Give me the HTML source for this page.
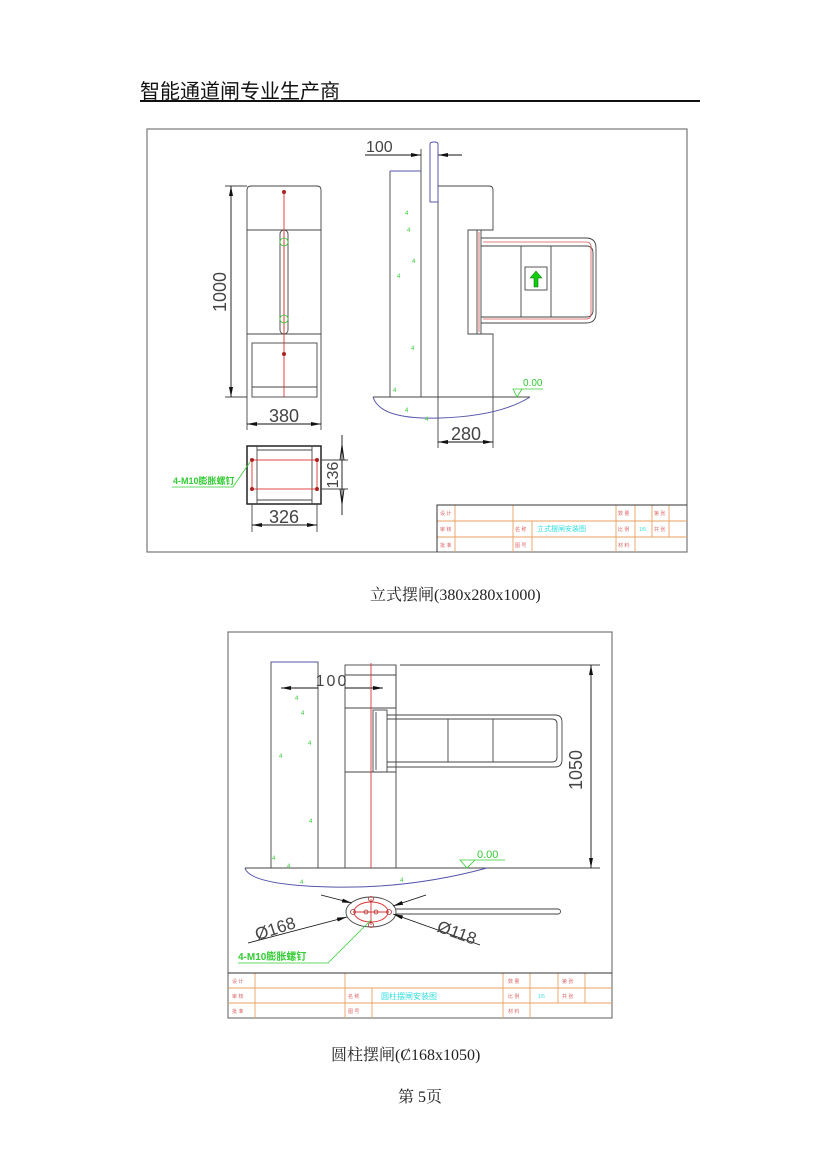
<!DOCTYPE html>
<html><head><meta charset="utf-8"><style>
html,body{margin:0;padding:0;background:#fff}
body{width:827px;height:1167px;position:relative;overflow:hidden}
.t{position:absolute;white-space:nowrap}
svg{position:absolute;left:0;top:0}
</style></head><body>
<div class="t" style="left:140px;top:75px;font:20px 'Liberation Sans','Noto Sans CJK SC',sans-serif;color:#111">智能通道闸专业生产商</div>
<div class="t" style="left:370px;top:582px;font:16px 'Liberation Serif','Noto Serif CJK SC',serif;color:#222">立式摆闸(380x280x1000)</div>
<div class="t" style="left:331px;top:1042px;font:16px 'Liberation Serif','Noto Serif CJK SC',serif;color:#222">圆柱摆闸(Ȼ168x1050)</div>
<div class="t" style="left:398px;top:1084px;font:16px 'Liberation Serif','Noto Serif CJK SC',serif;color:#222">第 5页</div>
<svg width="827" height="1167" viewBox="0 0 827 1167" font-family="Liberation Sans, Noto Sans CJK SC, sans-serif">
<defs><marker id="a" viewBox="0 0 10 4" refX="10" refY="2" markerWidth="11" markerHeight="4" orient="auto-start-reverse" markerUnits="userSpaceOnUse"><path d="M0,0L10,2L0,4z" fill="#111"/></marker></defs>
<line x1="140" y1="101" x2="700" y2="101" stroke="#111" stroke-width="2"/>
<!-- Drawing 1 -->
<rect x="147" y="129" width="540" height="423" fill="none" stroke="#777" stroke-width="1.2"/>
<g fill="none" stroke="#444" stroke-width="0.9">
<path d="M247,397V190q0-4 4-4h66q4,0 4,4V397"/>
<line x1="247" y1="230" x2="321" y2="230"/>
<line x1="247" y1="334" x2="321" y2="334"/>
<rect x="252" y="343" width="65" height="54"/>
<line x1="252" y1="387" x2="317" y2="387"/>
<rect x="280" y="230" width="8" height="104" rx="4"/>
<line x1="225" y1="186" x2="247" y2="186"/><line x1="225" y1="397" x2="247" y2="397"/>
<line x1="231" y1="186" x2="231" y2="397" stroke="#111" marker-start="url(#a)" marker-end="url(#a)"/>
<line x1="247" y1="397" x2="247" y2="430"/><line x1="321" y1="397" x2="321" y2="430"/>
<line x1="247" y1="424" x2="321" y2="424" stroke="#111" marker-start="url(#a)" marker-end="url(#a)"/>
<rect x="247" y="446" width="74" height="58" stroke="#222" stroke-width="1.5"/>
<line x1="257" y1="450" x2="312" y2="450"/><line x1="257" y1="500" x2="312" y2="500"/>
<line x1="257" y1="446" x2="257" y2="504"/><line x1="312" y1="446" x2="312" y2="504"/>
<line x1="321" y1="460" x2="348" y2="460"/><line x1="321" y1="489" x2="348" y2="489"/>
<line x1="342" y1="435" x2="342" y2="515" stroke="#111"/>
<path d="M342,445L340,460M342,445L344,460M342,504L340,489M342,504L344,489" stroke="#111"/>
<line x1="252" y1="504" x2="252" y2="532"/><line x1="317" y1="504" x2="317" y2="532"/>
<line x1="252" y1="525" x2="317" y2="525" stroke="#111" marker-start="url(#a)" marker-end="url(#a)"/>
</g>
<g stroke="#d33" fill="none" stroke-width="0.9">
<line x1="284" y1="190" x2="284" y2="397"/><line x1="284" y1="232" x2="284" y2="332"/>
<rect x="252" y="460" width="65" height="29"/>
</g>
<g fill="#a22"><circle cx="284" cy="192" r="2"/><circle cx="284" cy="354" r="2"/><circle cx="252" cy="460" r="2"/><circle cx="317" cy="460" r="2"/><circle cx="252" cy="489" r="2"/><circle cx="317" cy="489" r="2"/></g>
<g fill="none" stroke="#3c3" stroke-width="0.8"><circle cx="284" cy="242" r="4"/><circle cx="284" cy="319" r="4"/>
<path d="M172,487H233L250,462"/></g>
<g fill="#444">
<text x="221" y="292" font-size="18" text-anchor="middle" transform="rotate(-90 221 292)" dominant-baseline="middle">1000</text>
<text x="284" y="422" font-size="18" text-anchor="middle">380</text>
<text x="334" y="475" font-size="16" text-anchor="middle" transform="rotate(-90 334 475)" dominant-baseline="middle">136</text>
<text x="284" y="523" font-size="18" text-anchor="middle">326</text>
</g>
<text x="173" y="484" font-size="9" fill="#3c3" font-weight="bold">4-M10膨胀螺钉</text>
<!-- side view -->
<g fill="none" stroke="#444" stroke-width="0.9">
<line x1="390" y1="171" x2="390" y2="397"/><line x1="421" y1="149" x2="421" y2="397"/>
<path d="M438,397V186h51q4,0 4,4V230h-25V334h25V397"/>
<line x1="477" y1="230" x2="477" y2="334"/><line x1="481" y1="230" x2="481" y2="334"/>
<path d="M481,238H586q10,0 10,10V313q0,10-10,10H481"/>
<path d="M481,246H586q7,0 7,7V310q0,7-7,7H481"/>
<line x1="521" y1="246" x2="521" y2="317"/><line x1="551" y1="246" x2="551" y2="317"/>
<rect x="525" y="267" width="22" height="23"/>
<line x1="373" y1="397" x2="530" y2="397"/>
<line x1="438" y1="397" x2="438" y2="448"/><line x1="493" y1="397" x2="493" y2="448"/>
<line x1="438" y1="442" x2="493" y2="442" stroke="#111" marker-start="url(#a)" marker-end="url(#a)"/>
<line x1="365" y1="155" x2="421" y2="155" stroke="#111" marker-end="url(#a)"/>
<line x1="462" y1="155" x2="438" y2="155" stroke="#111" marker-end="url(#a)"/>
</g>
<g fill="none" stroke="#d55" stroke-width="0.8"><path d="M479,232V332"/><path d="M483,242H586q5,0 5,5V314q0,5-5,5H483"/></g>
<path d="M534,287v-9h-4l6-7 6,7h-4v9z" fill="#1c1" stroke="#060" stroke-width="0.5"/>
<g fill="none" stroke="#55a" stroke-width="1"><line x1="390" y1="171" x2="421" y2="171"/>
<path d="M430,202V144q0-2 4-2q4,0 4,2V202z"/>
<path d="M373,397Q380,420 440,418T530,397"/></g>
<g fill="none" stroke="#3c3" stroke-width="0.8"><path d="M513,389L517,397L522,389ZM513,389H543"/></g>
<text x="523" y="386" font-size="10" fill="#3c3">0.00</text>
<text x="366" y="152" font-size="16" fill="#444">100</text>
<text x="466" y="440" font-size="18" fill="#444" text-anchor="middle">280</text>
<g fill="#3c3" font-size="6"><text x="405" y="215">4</text><text x="407" y="232">4</text><text x="412" y="263">4</text><text x="397" y="278">4</text><text x="411" y="350">4</text><text x="393" y="392">4</text><text x="405" y="412">4</text><text x="425" y="421">4</text></g>
<!-- title block 1 -->
<g fill="none" stroke="#e9a060" stroke-width="0.9">
<path d="M437,521H687M437,537H687M455,505V552M513,505V552M532,521V552M616,505V552M635,505V552M652,505V537M669,505V537"/></g>
<path d="M437,552V505H687" fill="none" stroke="#333" stroke-width="1"/>
<g font-size="5" fill="#d66"><text x="440" y="515">设 计</text><text x="440" y="531">审 核</text><text x="440" y="547">批 准</text><text x="515" y="531">名 称</text><text x="515" y="547">图 号</text><text x="618" y="515">数 量</text><text x="618" y="531">比 例</text><text x="618" y="547">材 料</text><text x="654" y="515">第 张</text><text x="654" y="531">共 张</text></g>
<text x="537" y="531" font-size="7" fill="#3dd">立式摆闸安装图</text><text x="639" y="531" font-size="5" fill="#3dd">1/5</text>
<!-- Drawing 2 -->
<rect x="228" y="632" width="384" height="386" fill="none" stroke="#777" stroke-width="1.2"/>
<g fill="none" stroke="#444" stroke-width="0.9">
<rect x="271" y="662" width="47" height="206"/>
<rect x="345" y="665" width="51" height="203"/>
<line x1="345" y1="675" x2="396" y2="675"/><path d="M345,708H396V665M345,772H396"/>
<rect x="373" y="710" width="14" height="62"/><line x1="376" y1="712" x2="376" y2="770"/>
<path d="M387,715H555q7,0 7,7V760q0,7-7,7H387"/>
<path d="M387,719H552q5,0 5,5V757q0,5-5,5H387"/>
<line x1="448" y1="719" x2="448" y2="762"/><line x1="493" y1="719" x2="493" y2="762"/>
<line x1="400" y1="665" x2="600" y2="665"/>
<line x1="245" y1="868" x2="600" y2="868"/>
<line x1="591" y1="665" x2="591" y2="868" stroke="#111" marker-start="url(#a)" marker-end="url(#a)"/>
<line x1="281" y1="688" x2="318" y2="688" stroke="#111" marker-start="url(#a)"/>
<line x1="383" y1="688" x2="345" y2="688" stroke="#111" marker-start="url(#a)"/>
<ellipse cx="371" cy="912" rx="25" ry="15"/>
<path d="M396,909H558a2.5,2.5 0 0 1 0,5H396"/>
<line x1="248" y1="943" x2="347" y2="917" stroke="#111" marker-end="url(#a)"/>
<line x1="321" y1="895" x2="352" y2="903" stroke="#111" marker-end="url(#a)"/>
<line x1="480" y1="945" x2="393" y2="914" stroke="#111" marker-end="url(#a)"/>
<line x1="426" y1="895" x2="393" y2="906" stroke="#111" marker-end="url(#a)"/>
</g>
<g fill="none" stroke="#d33" stroke-width="0.9"><line x1="371" y1="663" x2="371" y2="868"/>
<ellipse cx="371" cy="912" rx="17" ry="10"/><line x1="353" y1="912" x2="389" y2="912"/><line x1="371" y1="899" x2="371" y2="925"/></g>
<g fill="none" stroke="#a33" stroke-width="0.8"><circle cx="371" cy="899" r="2.5"/><circle cx="371" cy="925" r="2.5"/><circle cx="353" cy="912" r="2.5"/><circle cx="389" cy="912" r="2.5"/><circle cx="366" cy="912" r="2"/><circle cx="376" cy="912" r="2"/></g>
<g fill="none" stroke="#55a" stroke-width="1"><line x1="271" y1="662" x2="318" y2="662"/><path d="M245,868Q250,885 330,887T487,868"/></g>
<g fill="none" stroke="#3c3" stroke-width="0.8"><path d="M460,860L467,868L475,860ZM460,860H505"/><path d="M238,963H328L371,920"/></g>
<text x="477" y="858" font-size="11" fill="#3c3">0.00</text>
<text x="238" y="960" font-size="10" fill="#3c3" font-weight="bold">4-M10膨胀螺钉</text>
<text x="332" y="686" font-size="16" fill="#444" text-anchor="middle" letter-spacing="2">100</text>
<text x="577" y="770" font-size="18" fill="#444" text-anchor="middle" transform="rotate(-90 577 770)" dominant-baseline="middle">1050</text>
<text x="277" y="934" font-size="17" fill="#444" text-anchor="middle" transform="rotate(-18 277 934)">Ø168</text>
<text x="455" y="938" font-size="17" fill="#444" text-anchor="middle" transform="rotate(20 455 938)">Ø118</text>
<g fill="#3c3" font-size="6"><text x="295" y="700">4</text><text x="301" y="715">4</text><text x="308" y="745">4</text><text x="279" y="758">4</text><text x="309" y="823">4</text><text x="272" y="860">4</text><text x="287" y="868">4</text><text x="300" y="884">4</text><text x="400" y="882">4</text></g>
<g fill="none" stroke="#e9a060" stroke-width="0.9">
<path d="M228,988H612M228,1003H612M255,973V1018M345,973V1018M372,988V1018M503,973V1018M530,973V1018M558,973V1003M585,973V1003"/></g>
<line x1="228" y1="973" x2="612" y2="973" stroke="#333"/>
<g font-size="5" fill="#d66"><text x="232" y="983">设 计</text><text x="232" y="998">审 核</text><text x="232" y="1013">批 准</text><text x="348" y="998">名 称</text><text x="348" y="1013">图 号</text><text x="508" y="983">数 量</text><text x="508" y="998">比 例</text><text x="508" y="1013">材 料</text><text x="562" y="983">第 张</text><text x="562" y="998">共 张</text></g>
<text x="381" y="999" font-size="8" fill="#3dd">圆柱摆闸安装图</text><text x="538" y="998" font-size="5" fill="#3dd">1/5</text>
</svg>
</body></html>
